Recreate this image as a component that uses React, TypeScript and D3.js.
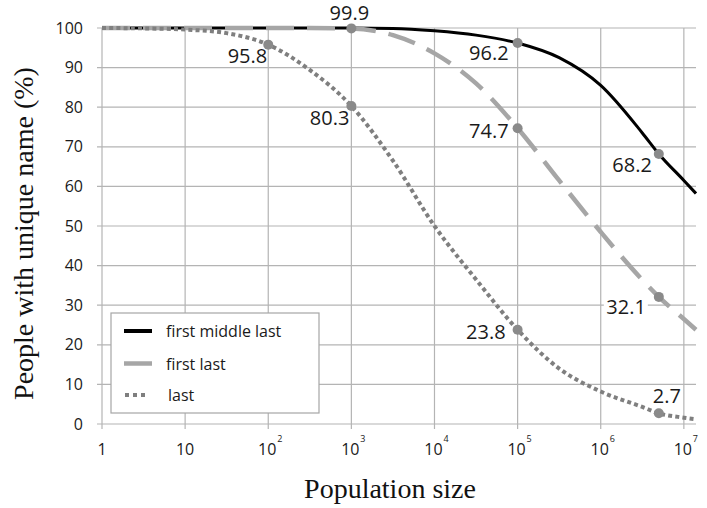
import React from "react";
import * as d3 from "d3";

// Population sizes sampled along the curves
const populations = [1, 3.16, 10, 31.6, 100, 316, 1000, 3162, 10000, 31623, 100000, 316228, 1000000, 3162278, 5000000, 10000000, 14000000];
const firstMiddleLast = [100, 100, 100, 100, 100, 100, 100, 99.9, 99.3, 98.2, 96.2, 92.5, 85.5, 73.5, 68.2, 61.5, 58.2];
const firstLast = [100, 100, 100, 100, 100, 100, 99.9, 98.2, 93.6, 86, 74.7, 61.5, 48.5, 36.4, 32.1, 26.5, 23.8];
const lastOnly = [100, 99.9, 99.6, 98.7, 95.8, 89.4, 80.3, 66.5, 50, 36.5, 23.8, 14, 8.2, 4.3, 2.7, 1.6, 1.2];

// Labelled points
const pointPops = [100, 1000, 100000, 5000000, 1000, 100000, 5000000, 100000, 5000000];
const pointValues = [95.8, 80.3, 23.8, 2.7, 99.9, 74.7, 32.1, 96.2, 68.2];
const pointLabels = ["95.8", "80.3", "23.8", "2.7", "99.9", "74.7", "32.1", "96.2", "68.2"];

// Axis ticks
const xTickValues = [1, 10, 100, 1000, 10000, 100000, 1000000, 10000000];
const xTickBase = ["1", "10", "10", "10", "10", "10", "10", "10"];
const xTickExp = ["", "", "2", "3", "4", "5", "6", "7"];
const yTickValues = [0, 10, 20, 30, 40, 50, 60, 70, 80, 90, 100];

const seriesNames = ["first middle last", "first last", "last"];

// label placement (dx, dy, anchor, background)
const labelDx = [-1, -2, -12, 8, -2, -9, -13, -9, -7];
const labelDy = [18, 19, 9, -10, -8, 10, 17, 17, 18];
const labelAnchor = ["end", "end", "end", "middle", "middle", "end", "end", "end", "end"];
const labelBg = [false, false, false, false, false, false, true, false, false];

const W = 707;
const H = 508;
const L = 102;
const R = 696;
const T = 28;
const B = 424;

export default function App() {
  const x = d3.scaleLog().domain([1, 14000000]).range([L, R]);
  const y = d3.scaleLinear().domain([0, 100]).range([B, T]);

  const line = d3
    .line<[number, number]>()
    .x((d) => x(d[0]))
    .y((d) => y(d[1]))
    .curve(d3.curveMonotoneX);

  const mk = (vals: number[]) => populations.map((p, i) => [p, vals[i]] as [number, number]);

  const grid = "#b4b4b4";
  const tickFont = "'Open Sans', sans-serif";

  return (
    <svg
      width={W}
      height={H}
      style={{ position: "absolute", left: 0, top: 0, background: "#fff" }}
    >
      <rect x={0} y={0} width={W} height={H} fill="#fff" />
      {/* horizontal grid */}
      {yTickValues.map((v) => (
        <line key={"h" + v} x1={L - 5} x2={R} y1={y(v)} y2={y(v)} stroke={grid} strokeWidth={1.2} />
      ))}
      {/* vertical grid */}
      {xTickValues.map((v) => (
        <line key={"v" + v} x1={x(v)} x2={x(v)} y1={T} y2={B + 5} stroke={grid} strokeWidth={1.2} />
      ))}
      {/* y tick labels */}
      {yTickValues.map((v) => (
        <text key={"yt" + v} x={83} y={y(v) + 5.5} textAnchor="end" fontFamily={tickFont} fontSize={16} fill="#1a1a1a">
          {v}
        </text>
      ))}
      {/* x tick labels */}
      {xTickValues.map((v, i) => (
        <g key={"xt" + v}>
          <text x={x(v) + (xTickExp[i] ? -1 : 0)} y={455} textAnchor="middle" fontFamily={tickFont} fontSize={16} fill="#1a1a1a">
            {xTickBase[i]}
          </text>
          {xTickExp[i] && (
            <text x={x(v) + 9} y={442} textAnchor="start" fontFamily={tickFont} fontSize={9} fill="#1a1a1a">
              {xTickExp[i]}
            </text>
          )}
        </g>
      ))}

      {/* series */}
      <path d={line(mk(firstMiddleLast)) || ""} fill="none" stroke="#000" strokeWidth={3} />
      <path d={line(mk(firstLast)) || ""} fill="none" stroke="#a6a6a6" strokeWidth={4.5} strokeDasharray="28 13" />
      <path d={line(mk(lastOnly)) || ""} fill="none" stroke="#7f7f7f" strokeWidth={4} strokeDasharray="4 3.2" />

      {/* markers */}
      {pointPops.map((p, i) => (
        <circle key={"m" + i} cx={x(p)} cy={y(pointValues[i])} r={5} fill="#8a8a8a" />
      ))}

      {/* labels */}
      {pointPops.map((p, i) => {
        const px = x(p) + labelDx[i];
        const py = y(pointValues[i]) + labelDy[i];
        const w = pointLabels[i].length * 10;
        const rx = labelAnchor[i] === "end" ? px - w - 2 : px - w / 2 - 2;
        return (
          <g key={"l" + i}>
            {labelBg[i] && <rect x={rx} y={py - 16} width={w + 4} height={20} fill="#fff" />}
            <text x={px} y={py} textAnchor={labelAnchor[i]} fontFamily={tickFont} fontSize={20} fill="#1a1a1a">
              {pointLabels[i]}
            </text>
          </g>
        );
      })}

      {/* legend */}
      <rect x={111} y={313} width={208} height={100} fill="#fff" stroke="#a6a6a6" strokeWidth={1.2} />
      <line x1={124} x2={152} y1={331} y2={331} stroke="#000" strokeWidth={4} />
      <line x1={124} x2={152} y1={363.5} y2={363.5} stroke="#a6a6a6" strokeWidth={4.5} />
      <line x1={125} x2={149} y1={395} y2={395} stroke="#7f7f7f" strokeWidth={4} strokeDasharray="4 4" />
      <text x={166} y={337} fontFamily={tickFont} fontSize={16} fill="#1a1a1a">{seriesNames[0]}</text>
      <text x={166} y={370} fontFamily={tickFont} fontSize={16} fill="#1a1a1a">{seriesNames[1]}</text>
      <text x={168} y={401} fontFamily={tickFont} fontSize={16} fill="#1a1a1a">{seriesNames[2]}</text>

      {/* axis titles */}
      <text x={390} y={498} textAnchor="middle" fontFamily="'Liberation Serif', serif" fontSize={28} fill="#111">
        Population size
      </text>
      <text
        transform={`translate(33,${233.5}) rotate(-90)`}
        textAnchor="middle"
        fontFamily="'Liberation Serif', serif"
        fontSize={28}
        fill="#111"
      >
        People with unique name (%)
      </text>
    </svg>
  );
}
